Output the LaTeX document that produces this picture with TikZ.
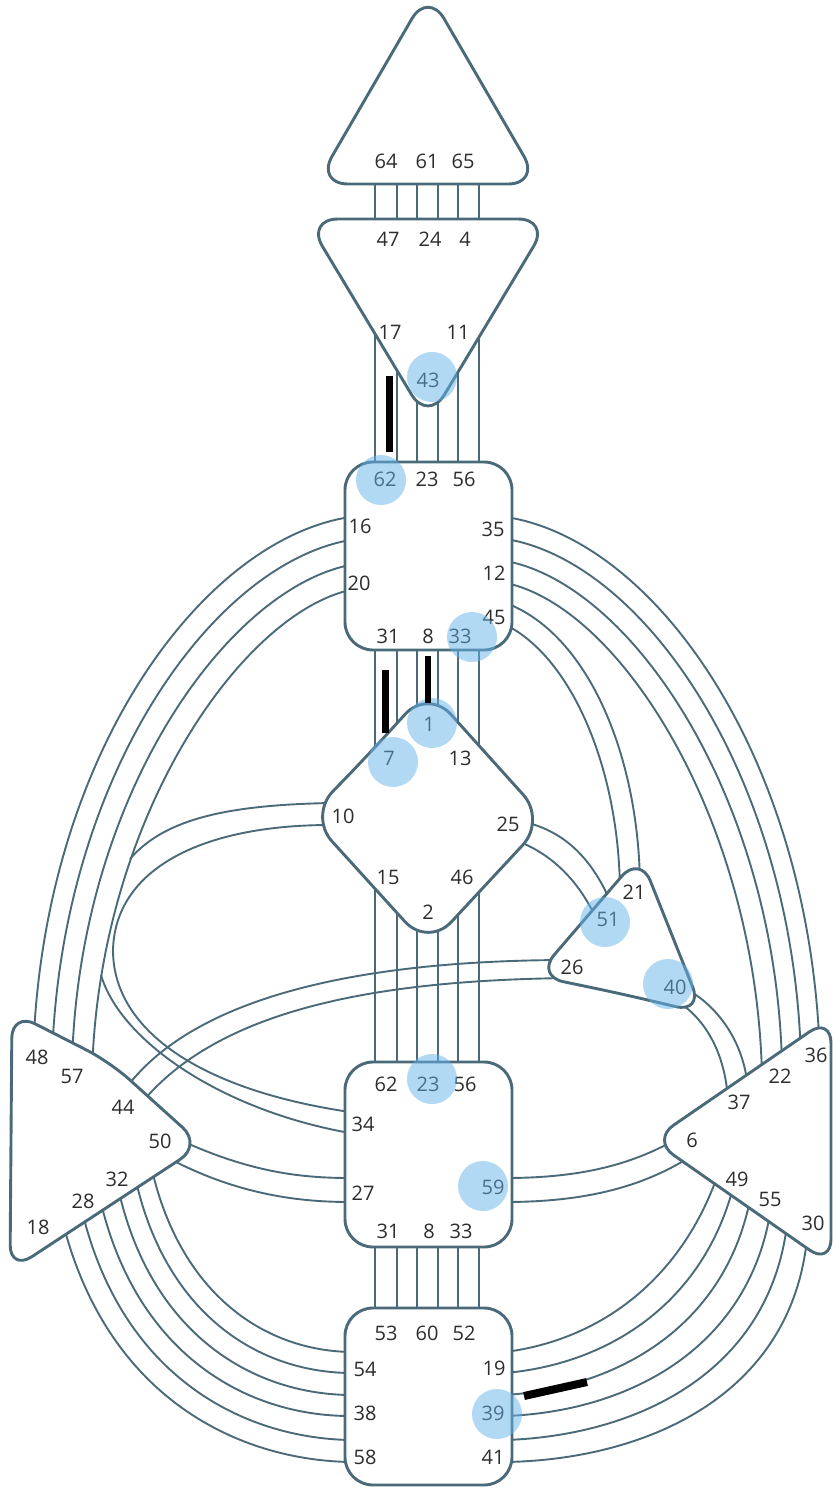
\documentclass[tikz,border=0pt]{standalone}
\usepackage{fontspec}
\setmainfont{Open Sans}
\definecolor{lc}{RGB}{74,106,121}
\definecolor{tc}{RGB}{45,45,45}
\definecolor{hb}{RGB}{100,180,235}
\tikzset{
  ch/.style={draw=lc, line width=1.9pt},
  ctr/.style={draw=lc, line width=2.9pt, fill=white, rounded corners=26pt, line join=round},
  lab/.style={text=tc, font=\fontsize{20}{22}\selectfont, inner sep=0pt},
  hl/.style={fill=hb, fill opacity=0.5, draw=none},
  blackbar/.style={fill=black, draw=none}
}
\begin{document}
\begin{tikzpicture}[x=1pt,y=-1pt]
\useasboundingbox (0,0) rectangle (833,1488);
\fill[white] (0,0) rectangle (833,1488);

% ---------- vertical channels ----------
\foreach \x in {375,397,417,438,458,479} {
  \draw[ch] (\x,170) -- (\x,235);
  \draw[ch] (\x,300) -- (\x,470);
  \draw[ch] (\x,640) -- (\x,800);
  \draw[ch] (\x,850) -- (\x,1075);
  \draw[ch] (\x,1240) -- (\x,1315);
}

% ---------- left arcs: throat 16/20 to spleen 48/57 ----------
\draw[ch] (350,517) .. controls (200,540) and (40,760) .. (33,1060);
\draw[ch] (350,540) .. controls (210,565) and (60,780) .. (52,1060);
\draw[ch] (350,565) .. controls (225,590) and (78,800) .. (72,1065);
\draw[ch] (350,590) .. controls (240,615) and (98,820) .. (92,1075);

% ---------- right arcs: throat 35/12 to solar plexus 36/22 ----------
\draw[ch] (506,517) .. controls (656,540) and (812,760) .. (820,1060);
\draw[ch] (506,539) .. controls (646,562) and (794,780) .. (801,1060);
\draw[ch] (506,561) .. controls (633,585) and (776,800) .. (782,1065);
\draw[ch] (506,583) .. controls (620,607) and (756,820) .. (762,1075);

% ---------- 45 - 21 ----------
\draw[ch] (506,603) .. controls (590,635) and (640,760) .. (640,890);
\draw[ch] (506,625) .. controls (572,658) and (620,770) .. (620,895);

% ---------- 10 channel ----------
\draw[ch] (330,803) .. controls (230,805) and (165,818) .. (130,859);
\draw[ch] (330,825) .. controls (200,825) and (115,870) .. (113,950)
                    .. controls (113,1030) and (200,1090) .. (350,1112);
\draw[ch] (101,975) .. controls (120,1040) and (220,1110) .. (350,1133);

% ---------- 26 - 44 ----------
\draw[ch] (570,960) .. controls (380,960) and (200,990) .. (126,1088);
\draw[ch] (570,978) .. controls (390,980) and (225,1005) .. (144,1100);

% ---------- 27 - 50 ----------
\draw[ch] (180,1140) .. controls (250,1172) and (300,1178) .. (350,1178);
\draw[ch] (172,1160) .. controls (240,1195) and (300,1202) .. (350,1202);

% ---------- spleen to root ----------
\draw[ch] (152,1170) .. controls (180,1290) and (260,1350) .. (350,1352);
\draw[ch] (136,1181) .. controls (166,1312) and (256,1372) .. (350,1373);
\draw[ch] (119,1192) .. controls (152,1334) and (252,1394) .. (350,1395);
\draw[ch] (101,1203) .. controls (138,1356) and (248,1416) .. (350,1416);
\draw[ch] (83,1215) .. controls (124,1378) and (244,1438) .. (350,1440);
\draw[ch] (64,1227) .. controls (110,1400) and (240,1460) .. (350,1462);

% ---------- solar plexus to root ----------
\draw[ch] (717,1177) .. controls (680,1280) and (600,1340) .. (505,1352);
\draw[ch] (733,1188) .. controls (702,1304) and (608,1364) .. (505,1373);
\draw[ch] (750,1200) .. controls (724,1328) and (616,1388) .. (505,1395);
\draw[ch] (770,1214) .. controls (746,1352) and (624,1412) .. (505,1416);
\draw[ch] (787,1225) .. controls (768,1376) and (632,1436) .. (505,1440);
\draw[ch] (807,1239) .. controls (790,1400) and (640,1460) .. (505,1462);

% ---------- 59 - 6 ----------
\draw[ch] (505,1178) .. controls (580,1178) and (630,1165) .. (675,1140);
\draw[ch] (505,1202) .. controls (590,1202) and (645,1185) .. (690,1157);

% ---------- 25 - 51 ----------
\draw[ch] (525,822) .. controls (565,832) and (592,858) .. (612,905);
\draw[ch] (520,842) .. controls (552,855) and (578,880) .. (596,918);

% ---------- 40 - 37 ----------
\draw[ch] (688,990) .. controls (720,1008) and (745,1045) .. (748,1090);
\draw[ch] (680,1003) .. controls (705,1020) and (725,1052) .. (728,1100);

% ---------- centers ----------
\draw[ctr, rounded corners=32pt] (428,184) -- (540,184) -- (428,-9) -- (316,184) -- cycle;
\draw[ctr, rounded corners=32pt] (428,219) -- (550,219) -- (428,422) -- (306,219) -- cycle;
\draw[ctr, rounded corners=28pt] (345,462) rectangle (512,650);
\draw[ctr, rounded corners=34pt] (369.5,753.5) -- (428,689) -- (546,820) -- (428,947) -- (309,816) -- cycle;
\draw[ctr, rounded corners=28pt] (620,993.5) -- (703,1013) -- (640,855) -- (536,976) -- cycle;
\draw[ctr] (11,1140) -- (12,1012) -- (110,1062) -- (202,1145) -- (10,1271) -- cycle;
\draw[ctr] (831,1140) -- (831,1265) -- (652,1140) -- (831,1017) -- cycle;
\draw[ctr, rounded corners=28pt] (345,1062) rectangle (512,1247);
\draw[ctr, rounded corners=28pt] (345,1308) rectangle (512,1485);

% ---------- labels ----------
\node[lab] (h64) at (386,161) {64};
\node[lab] (h61) at (427,161) {61};
\node[lab] (h65) at (463,161) {65};
\node[lab] (a47) at (388,239) {47};
\node[lab] (a24) at (430,239) {24};
\node[lab] (a4)  at (465,239) {4};
\node[lab] (a17) at (390,332) {17};
\node[lab] (a11) at (458,332) {11};
\node[lab] (a43) at (428,380) {43};
\node[lab] (t62) at (385,479) {62};
\node[lab] (t23) at (427,479) {23};
\node[lab] (t56) at (464,479) {56};
\node[lab] (t16) at (360,526) {16};
\node[lab] (t20) at (359,583) {20};
\node[lab] (t35) at (493,529) {35};
\node[lab] (t12) at (494,573) {12};
\node[lab] (t45) at (494,617) {45};
\node[lab] (t31) at (388,636) {31};
\node[lab] (t8)  at (428,636) {8};
\node[lab] (t33) at (460,636) {33};
\node[lab] (g1)  at (429,724) {1};
\node[lab] (g7)  at (389,758) {7};
\node[lab] (g13) at (460,758) {13};
\node[lab] (g10) at (343,816) {10};
\node[lab] (g25) at (508,824) {25};
\node[lab] (g15) at (388,877) {15};
\node[lab] (g46) at (462,877) {46};
\node[lab] (g2)  at (428,912) {2};
\node[lab] (e21) at (634,892) {21};
\node[lab] (e51) at (608,919) {51};
\node[lab] (e26) at (572,967) {26};
\node[lab] (e40) at (675,987) {40};
\node[lab] (s48) at (37,1057) {48};
\node[lab] (s57) at (72,1076) {57};
\node[lab] (s44) at (123,1107) {44};
\node[lab] (s50) at (160,1141) {50};
\node[lab] (s32) at (117,1179) {32};
\node[lab] (s28) at (83,1201) {28};
\node[lab] (s18) at (38,1227) {18};
\node[lab] (p36) at (816,1055) {36};
\node[lab] (p22) at (780,1076) {22};
\node[lab] (p37) at (739,1102) {37};
\node[lab] (p6)  at (692,1140) {6};
\node[lab] (p49) at (737,1179) {49};
\node[lab] (p55) at (770,1199) {55};
\node[lab] (p30) at (813,1223) {30};
\node[lab] (c62) at (386,1084) {62};
\node[lab] (c23) at (428,1084) {23};
\node[lab] (c56) at (465,1084) {56};
\node[lab] (c34) at (363,1124) {34};
\node[lab] (c27) at (363,1193) {27};
\node[lab] (c59) at (493,1187) {59};
\node[lab] (c31) at (388,1231) {31};
\node[lab] (c8)  at (429,1231) {8};
\node[lab] (c33) at (461,1231) {33};
\node[lab] (r53) at (386,1333) {53};
\node[lab] (r60) at (427,1333) {60};
\node[lab] (r52) at (464,1333) {52};
\node[lab] (r54) at (365,1369) {54};
\node[lab] (r38) at (365,1413) {38};
\node[lab] (r58) at (365,1457) {58};
\node[lab] (r19) at (494,1368) {19};
\node[lab] (r39) at (493,1413) {39};
\node[lab] (r41) at (493,1457) {41};

% ---------- highlights ----------
\fill[hl] (432,377) circle (25pt);
\fill[hl] (381,480) circle (25pt);
\fill[hl] (472,637) circle (25pt);
\fill[hl] (432,723) circle (25pt);
\fill[hl] (393,762) circle (25pt);
\fill[hl] (605,922) circle (25pt);
\fill[hl] (668,984) circle (25pt);
\fill[hl] (432,1079) circle (25pt);
\fill[hl] (483,1186) circle (25pt);
\fill[hl] (497,1414) circle (25pt);

% ---------- black marks ----------
\fill[blackbar] (386,376) rectangle (393,452);
\fill[blackbar] (425,656) rectangle (431,703);
\fill[blackbar] (382,670) rectangle (389,733);
\draw[line width=8pt] (524,1396) -- (587,1382);
\end{tikzpicture}
\end{document}
